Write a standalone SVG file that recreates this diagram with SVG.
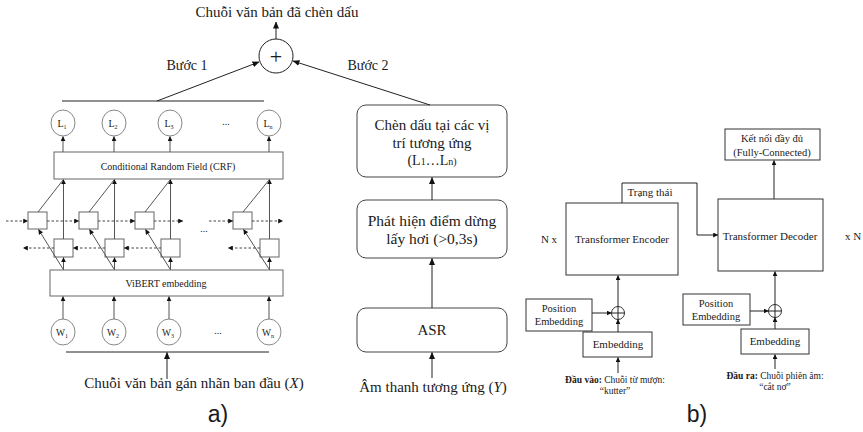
<svg xmlns="http://www.w3.org/2000/svg" width="863" height="432" viewBox="0 0 863 432">
<style>
text{font-family:"Liberation Serif","Times New Roman",serif;fill:#1a1a1a;text-anchor:middle}
.sans{font-family:"Liberation Sans",Arial,sans-serif}
.ln{stroke:#222;stroke-width:1;fill:none}
.gl{stroke:#555;stroke-width:1;fill:none}
.dash{stroke:#444;stroke-width:1;fill:none;stroke-dasharray:2.5,2}
.bx{fill:#fff;stroke:#666;stroke-width:1}
.bk{fill:#fff;stroke:#333;stroke-width:1}
.cir{fill:#fff;stroke:#888;stroke-width:1}
.rb{fill:#fff;stroke:#444;stroke-width:1}
</style>
<defs>
<marker id="ah" markerWidth="7" markerHeight="6" refX="6.5" refY="3" orient="auto" markerUnits="userSpaceOnUse">
<path d="M0,0 L7,3 L0,6 Z" fill="#111"/>
</marker>
<marker id="as" markerWidth="5" markerHeight="5" refX="4.8" refY="2.5" orient="auto" markerUnits="userSpaceOnUse">
<path d="M0,0 L5,2.5 L0,5 Z" fill="#111"/>
</marker>
</defs>

<!-- ===== Part a) left ===== -->
<g id="title-out"><text x="277" y="17" font-size="15">Chuỗi văn bản đã chèn dấu</text></g>
<g id="plus"><circle cx="276" cy="56" r="17" fill="#fff" stroke="#222"/><text x="276" y="63.5" font-size="22">+</text></g>
<g id="step1-label"><text x="187" y="70" font-size="14">Bước 1</text></g>
<g id="step2-label"><text x="368" y="70" font-size="14">Bước 2</text></g>

<g id="L-nodes" font-size="10">
<g id="L1"><ellipse class="cir" cx="63" cy="123" rx="12" ry="13"/><text x="62" y="127" font-size="10">L<tspan font-size="6" dy="2">1</tspan></text></g>
<g id="L2"><ellipse class="cir" cx="114" cy="123" rx="12" ry="13"/><text x="113" y="127" font-size="10">L<tspan font-size="6" dy="2">2</tspan></text></g>
<g id="L3"><ellipse class="cir" cx="170" cy="123" rx="12" ry="13"/><text x="169" y="127" font-size="10">L<tspan font-size="6" dy="2">3</tspan></text></g>
<g id="Ln"><ellipse class="cir" cx="269" cy="123" rx="12" ry="13"/><text x="268" y="127" font-size="10">L<tspan font-size="6" dy="2">n</tspan></text></g>
<text x="226" y="125" font-size="10">...</text>
</g>

<g id="crf"><rect class="bx" x="54" y="152" width="229" height="27"/><text x="168" y="170" font-size="10">Conditional Random Field (CRF)</text></g>

<g id="lstm-fwd">
<rect class="bx" x="28" y="212" width="19" height="17"/>
<rect class="bx" x="79" y="212" width="19" height="17"/>
<rect class="bx" x="135" y="212" width="19" height="17"/>
<rect class="bx" x="233" y="212" width="19" height="17"/>
</g>
<g id="lstm-bwd">
<rect class="bx" x="54" y="239" width="19" height="18"/>
<rect class="bx" x="105" y="239" width="19" height="18"/>
<rect class="bx" x="161" y="239" width="19" height="18"/>
<rect class="bx" x="260" y="239" width="19" height="18"/>
</g>
<text x="204" y="232" font-size="10">...</text>

<g id="vibert"><rect class="bx" x="50" y="270" width="233" height="26"/><text x="166" y="287" font-size="10">ViBERT embedding</text></g>

<g id="W-nodes">
<g id="W1"><ellipse class="cir" cx="63" cy="332" rx="12" ry="13"/><text x="62" y="336" font-size="9.5">W<tspan font-size="6" dy="2">1</tspan></text></g>
<g id="W2"><ellipse class="cir" cx="114" cy="332" rx="12" ry="13"/><text x="113" y="336" font-size="9.5">W<tspan font-size="6" dy="2">2</tspan></text></g>
<g id="W3"><ellipse class="cir" cx="169" cy="332" rx="12" ry="13"/><text x="168" y="336" font-size="9.5">W<tspan font-size="6" dy="2">3</tspan></text></g>
<g id="Wn"><ellipse class="cir" cx="269" cy="332" rx="12" ry="13"/><text x="268" y="336" font-size="9.5">W<tspan font-size="6" dy="2">n</tspan></text></g>
<text x="218" y="334" font-size="10">...</text>
</g>

<g id="input-x"><text x="194" y="388" font-size="15">Chuỗi văn bản gán nhãn ban đầu (<tspan font-style="italic">X</tspan>)</text></g>
<g id="label-a"><text class="sans" x="218" y="422" font-size="23">a)</text></g>

<!-- ===== Part a) right (step 2) ===== -->
<g id="insert-box"><rect class="rb" x="357" y="105" width="150" height="72" rx="9"/>
<text x="432" y="130" font-size="15">Chèn dấu tại các vị</text>
<text x="432" y="148" font-size="15">trí tương ứng</text>
<text x="432" y="165" font-size="14">(L<tspan font-size="10">1</tspan>…L<tspan font-size="10">n)</tspan></text></g>
<g id="pause-box"><rect class="rb" x="357" y="200" width="150" height="58" rx="9"/>
<text x="432" y="226" font-size="15.5">Phát hiện điểm dừng</text>
<text x="432" y="244" font-size="15.5">lấy hơi (&gt;0,3s)</text></g>
<g id="asr-box"><rect class="rb" x="357" y="308" width="150" height="44" rx="9"/>
<text x="432" y="335" font-size="15">ASR</text></g>
<g id="input-y"><text x="433" y="392" font-size="15">Âm thanh tương ứng (<tspan font-style="italic">Y</tspan>)</text></g>

<!-- ===== Part b) ===== -->
<g id="encoder"><rect class="bk" x="566" y="203" width="112" height="72"/><text x="622" y="243" font-size="11">Transformer Encoder</text></g>
<g id="nx"><text x="549" y="243" font-size="11">N x</text></g>
<g id="state-label"><text x="650" y="196" font-size="11">Trạng thái</text></g>
<g id="decoder"><rect class="bk" x="718" y="199" width="105" height="72"/><text x="770" y="240" font-size="11">Transformer Decoder</text></g>
<g id="xn"><text x="853" y="240" font-size="11">x N</text></g>
<g id="fc"><rect class="bk" x="725" y="129" width="95" height="31"/><text x="772" y="142" font-size="10.5">Kết nối đầy đủ</text><text x="772" y="156" font-size="10.5">(Fully-Connected)</text></g>

<g id="pos-enc"><rect class="bk" x="526" y="299" width="66" height="32"/><text x="559" y="312" font-size="10.5">Position</text><text x="559" y="325" font-size="10.5">Embedding</text></g>
<g id="add-enc"><circle cx="618" cy="313" r="6.5" fill="#fff" stroke="#333"/><path class="ln" d="M611.5,313 H624.5 M618,306.5 V319.5"/></g>
<g id="emb-enc"><rect class="bk" x="583" y="332" width="69" height="25"/><text x="618" y="348" font-size="11">Embedding</text></g>
<g id="in-enc"><text x="615" y="383" font-size="9.5"><tspan font-weight="bold">Đầu vào:</tspan> Chuỗi từ mượn:</text><text x="615" y="394" font-size="9.5">“kutter”</text></g>

<g id="pos-dec"><rect class="bk" x="683" y="294" width="67" height="31"/><text x="716" y="307" font-size="10.5">Position</text><text x="716" y="320" font-size="10.5">Embedding</text></g>
<g id="add-dec"><circle cx="775" cy="311" r="6.5" fill="#fff" stroke="#333"/><path class="ln" d="M768.5,311 H781.5 M775,304.5 V317.5"/></g>
<g id="emb-dec"><rect class="bk" x="741" y="329" width="68" height="25"/><text x="775" y="345" font-size="11">Embedding</text></g>
<g id="out-dec"><text x="775" y="379" font-size="9.5"><tspan font-weight="bold">Đầu ra:</tspan> Chuỗi phiên âm:</text><text x="775" y="390" font-size="9.5">“cắt nơ”</text></g>
<g id="label-b"><text class="sans" x="697" y="422" font-size="23">b)</text></g>

<!-- ===== Connectors ===== -->
<g id="connectors">
<line class="ln" x1="276" y1="39" x2="276" y2="22" marker-end="url(#ah)"/>
<line class="ln" x1="62" y1="101" x2="264" y2="101"/>
<line class="ln" x1="157" y1="101" x2="259" y2="62" marker-end="url(#ah)"/>
<line class="ln" x1="430" y1="105" x2="293" y2="61" marker-end="url(#ah)"/>
<line class="gl" x1="63" y1="152" x2="63" y2="136.5" marker-end="url(#as)"/>
<line class="gl" x1="114" y1="152" x2="114" y2="136.5" marker-end="url(#as)"/>
<line class="gl" x1="170" y1="152" x2="170" y2="136.5" marker-end="url(#as)"/>
<line class="gl" x1="269" y1="152" x2="269" y2="136.5" marker-end="url(#as)"/>
<line class="gl" x1="63.5" y1="239" x2="63.5" y2="179.5" marker-end="url(#as)"/>
<line class="gl" x1="114.5" y1="239" x2="114.5" y2="179.5" marker-end="url(#as)"/>
<line class="gl" x1="170.5" y1="239" x2="170.5" y2="179.5" marker-end="url(#as)"/>
<line class="gl" x1="269.5" y1="239" x2="269.5" y2="179.5" marker-end="url(#as)"/>
<line class="gl" x1="63.5" y1="270" x2="63.5" y2="257.5" marker-end="url(#as)"/>
<line class="gl" x1="114.5" y1="270" x2="114.5" y2="257.5" marker-end="url(#as)"/>
<line class="gl" x1="170.5" y1="270" x2="170.5" y2="257.5" marker-end="url(#as)"/>
<line class="gl" x1="269.5" y1="270" x2="269.5" y2="257.5" marker-end="url(#as)"/>
<line class="gl" x1="38" y1="212" x2="63" y2="180"/>
<line class="gl" x1="89" y1="212" x2="114" y2="180"/>
<line class="gl" x1="145" y1="212" x2="170" y2="180"/>
<line class="gl" x1="243" y1="212" x2="269" y2="180"/>
<line class="gl" x1="63" y1="269" x2="38.5" y2="229.5" marker-end="url(#as)"/>
<line class="gl" x1="114" y1="269" x2="89.5" y2="229.5" marker-end="url(#as)"/>
<line class="gl" x1="170" y1="269" x2="145.5" y2="229.5" marker-end="url(#as)"/>
<line class="gl" x1="269" y1="269" x2="243.5" y2="229.5" marker-end="url(#as)"/>
<line class="dash" x1="6" y1="221" x2="28" y2="221" marker-end="url(#as)"/>
<line class="dash" x1="47" y1="221" x2="79" y2="221" marker-end="url(#as)"/>
<line class="dash" x1="98" y1="221" x2="135" y2="221" marker-end="url(#as)"/>
<line class="dash" x1="154" y1="221" x2="183" y2="221" marker-end="url(#as)"/>
<line class="dash" x1="209" y1="221" x2="233" y2="221" marker-end="url(#as)"/>
<line class="dash" x1="252" y1="221" x2="283" y2="221" marker-end="url(#as)"/>
<line class="dash" x1="54" y1="248" x2="23" y2="248" marker-end="url(#as)"/>
<line class="dash" x1="105" y1="248" x2="73" y2="248" marker-end="url(#as)"/>
<line class="dash" x1="161" y1="248" x2="124" y2="248" marker-end="url(#as)"/>
<line class="dash" x1="260" y1="248" x2="228" y2="248" marker-end="url(#as)"/>
<line class="gl" x1="63" y1="319" x2="63" y2="296.5" marker-end="url(#as)"/>
<line class="gl" x1="114" y1="319" x2="114" y2="296.5" marker-end="url(#as)"/>
<line class="gl" x1="169" y1="319" x2="169" y2="296.5" marker-end="url(#as)"/>
<line class="gl" x1="269" y1="319" x2="269" y2="296.5" marker-end="url(#as)"/>
<line class="ln" x1="66" y1="352" x2="269" y2="352"/>
<line class="ln" x1="167" y1="379" x2="167" y2="352.5" marker-end="url(#ah)"/>
<line class="ln" x1="432" y1="200" x2="432" y2="177.5" marker-end="url(#ah)"/>
<line class="ln" x1="432" y1="308" x2="432" y2="258.5" marker-end="url(#ah)"/>
<line class="ln" x1="432" y1="378" x2="432" y2="352.5" marker-end="url(#ah)"/>
<polyline class="ln" points="622,203 622,183 697,183 697,235 718,235" marker-end="url(#as)"/>
<line class="ln" x1="774" y1="199" x2="774" y2="160.5" marker-end="url(#as)"/>
<line class="ln" x1="618" y1="306.5" x2="618" y2="275.5" marker-end="url(#as)"/>
<line class="ln" x1="618" y1="332" x2="618" y2="319.5" marker-end="url(#as)"/>
<line class="ln" x1="592" y1="313" x2="611.5" y2="313" marker-end="url(#as)"/>
<line class="ln" x1="618" y1="373" x2="618" y2="357.5" marker-end="url(#as)"/>
<line class="ln" x1="775" y1="304.5" x2="775" y2="271.5" marker-end="url(#as)"/>
<line class="ln" x1="775" y1="329" x2="775" y2="317.5" marker-end="url(#as)"/>
<line class="ln" x1="750" y1="311" x2="768.5" y2="311" marker-end="url(#as)"/>
<line class="ln" x1="775" y1="369" x2="775" y2="354.5" marker-end="url(#as)"/>
</g>
</svg>
